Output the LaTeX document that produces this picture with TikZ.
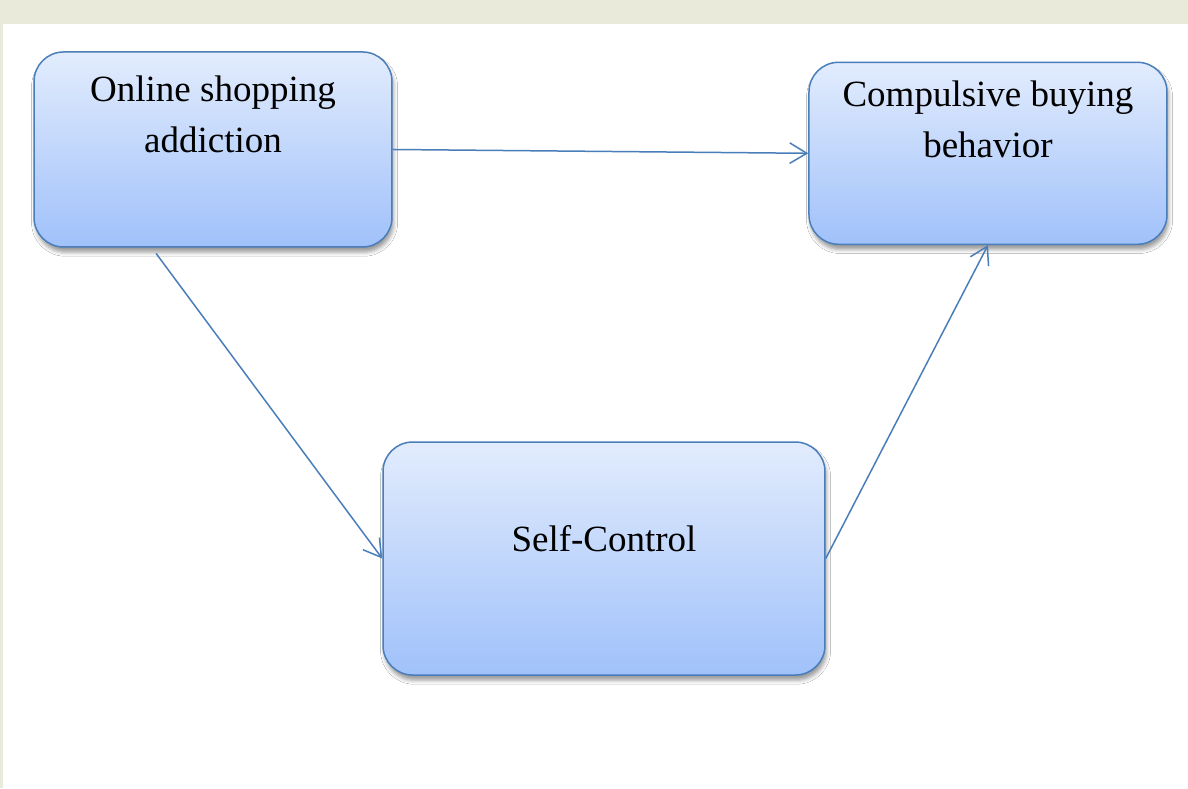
\documentclass[tikz,border=0pt]{standalone}
\definecolor{boxline}{RGB}{74, 126, 187}
\definecolor{boxtop}{RGB}{226, 236, 253}
\definecolor{boxbottom}{RGB}{160, 193, 250}
\definecolor{pagebeige}{RGB}{234, 234, 218}
\usepackage{fontspec}
\setmainfont{Liberation Serif}
\usepackage{tikz}
\usetikzlibrary{arrows.meta, positioning, shadows.blur}

\tikzset{
  modelbox/.style={draw=boxline, line width=0.75pt, rounded corners=0.52cm,
    top color=boxtop, bottom color=boxbottom, inner sep=0pt,
    blur shadow={shadow xshift=0.8pt, shadow yshift=-2.6pt, shadow blur radius=2pt, shadow opacity=40}},
  boxtext/.style={inner sep=0pt, align=center, font=\fontsize{18.5}{25.5}\selectfont},
  link/.style={draw=boxline, line width=0.75pt, -{Straight Barb[length=3mm, width=3.6mm]}}
}

\begin{document}
\begin{tikzpicture}
  \fill[pagebeige] (0, 0) rectangle (20.877, -13.848);
  \fill[white] (0.058, -0.42) rectangle (20.877, -13.848);

  \node[modelbox, minimum width=6.291cm, minimum height=3.427cm] (shop) at (3.743, -2.627) {};
  \node[modelbox, minimum width=6.291cm, minimum height=3.198cm] (buy) at (17.362, -2.694) {};
  \node[modelbox, minimum width=7.767cm, minimum height=4.094cm] (ctrl) at (10.614, -9.815) {};

  \node[boxtext, below=0.42cm of shop.north] (shoptext) {Online shopping\\addiction};
  \node[boxtext, below=0.33cm of buy.north] (buytext) {Compulsive buying\\behavior};
  \node[boxtext, below=1.47cm of ctrl.north] (ctrltext) {Self-Control};

  \draw[link] (shop.east) -- (buy.west);
  \draw[link] ([xshift=-1cm, yshift=-0.1cm]shop.south) -- (ctrl.west);
  \draw[link] (ctrl.east) -- (buy.south);
\end{tikzpicture}
\end{document}
